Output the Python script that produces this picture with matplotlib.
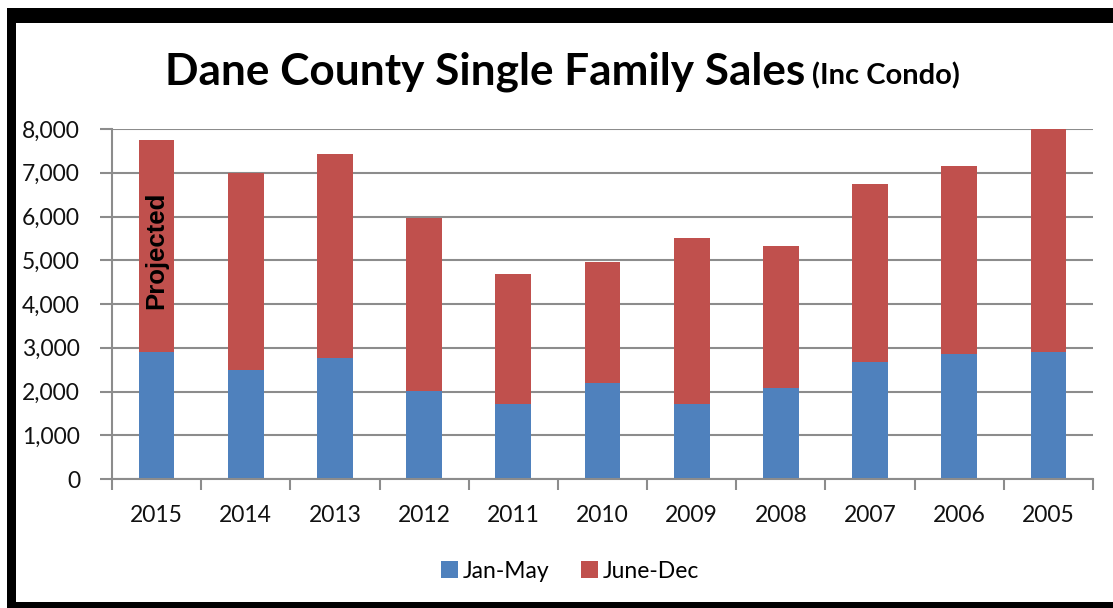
import numpy as np
import matplotlib.pyplot as plt
from matplotlib.patches import Rectangle

# values
years = ["2015", "2014", "2013", "2012", "2011", "2010", "2009", "2008", "2007", "2006", "2005"]
jan_may = [2900, 2495, 2760, 2020, 1710, 2205, 1710, 2070, 2670, 2850, 2900]
totals = [7750, 7000, 7425, 5960, 4680, 4950, 5510, 5320, 6740, 7150, 7990]
june_dec = [t - j for t, j in zip(totals, jan_may)]
y_ticks = [0, 1000, 2000, 3000, 4000, 5000, 6000, 7000, 8000]

BLUE = "#4F81BD"
RED = "#C0504D"
GRID = "#8C8C8C"
FONT = "Lato"
TICK_SIZE = 16.5

W, H = 1113, 608
fig = plt.figure(figsize=(W / 100, H / 100), dpi=100)
fig.patch.set_facecolor("white")

# black frame (top, left, bottom bands)
fig.patches.append(Rectangle((7 / W, 1 - 23 / H), 1 - 7 / W, 15 / H, transform=fig.transFigure,
                             facecolor="black", edgecolor="none", zorder=0))
fig.patches.append(Rectangle((7 / W, 0), 9 / W, 1 - 8 / H, transform=fig.transFigure,
                             facecolor="black", edgecolor="none", zorder=0))
fig.patches.append(Rectangle((7 / W, 0), 1 - 7 / W, 6 / H, transform=fig.transFigure,
                             facecolor="black", edgecolor="none", zorder=0))

ax = fig.add_axes([112 / W, 1 - 479 / H, (1093 - 112) / W, (479 - 129) / H])
x = np.arange(len(years))
ax.bar(x, jan_may, width=0.4, color=BLUE, label="Jan-May", zorder=3)
ax.bar(x, june_dec, width=0.4, bottom=jan_may, color=RED, label="June-Dec", zorder=3)

ax.set_xlim(-0.5, len(years) - 0.5)
ax.set_ylim(0, 8000)
ax.set_yticks(y_ticks)
ax.set_yticklabels([f"{v:,}" for v in y_ticks], fontfamily=FONT, fontsize=TICK_SIZE, color="#111111")
ax.set_xticks(x)
ax.set_xticklabels(years, fontfamily=FONT, fontsize=TICK_SIZE, color="#111111")
ax.set_xticks(np.arange(-0.5, len(years)), minor=True)
ax.tick_params(axis="x", which="major", length=0, pad=19)
ax.tick_params(axis="x", which="minor", length=8, width=1.5, color=GRID, direction="out")
ax.tick_params(axis="y", length=9, width=1.5, color=GRID, pad=14)

ax.grid(axis="y", color=GRID, linewidth=1.5, zorder=1)
for s in ["top", "right"]:
    ax.spines[s].set_visible(False)
for s in ["left", "bottom"]:
    ax.spines[s].set_color(GRID)
    ax.spines[s].set_linewidth(1.5)
    ax.spines[s].set_zorder(4)

ax.text(0, 5230, "Projected", rotation=90, ha="center", va="center",
        fontfamily="Liberation Sans", fontweight="bold", fontsize=18.5, color="black", zorder=5)

# title in two sizes sharing one baseline
t1 = fig.text(165 / W, 1 - 84 / H, "Dane County Single Family Sales", fontfamily=FONT,
              fontweight="bold", fontsize=31.8, color="black", ha="left", va="baseline")
fig.canvas.draw()
bb = t1.get_window_extent()
fig.text(bb.x1 / W + 7 / W, 1 - 84 / H, "(Inc Condo)", fontfamily=FONT, fontweight="bold",
         fontsize=21, color="black", ha="left", va="baseline")

fig.legend(loc="center", bbox_to_anchor=(570 / W, 1 - 571 / H), ncol=2, frameon=False,
           prop={"family": FONT, "size": 16.5}, handlelength=0.75, handleheight=0.75,
           handletextpad=0.2, columnspacing=1.4)

fig.savefig("out.png", dpi=100, facecolor="white")
